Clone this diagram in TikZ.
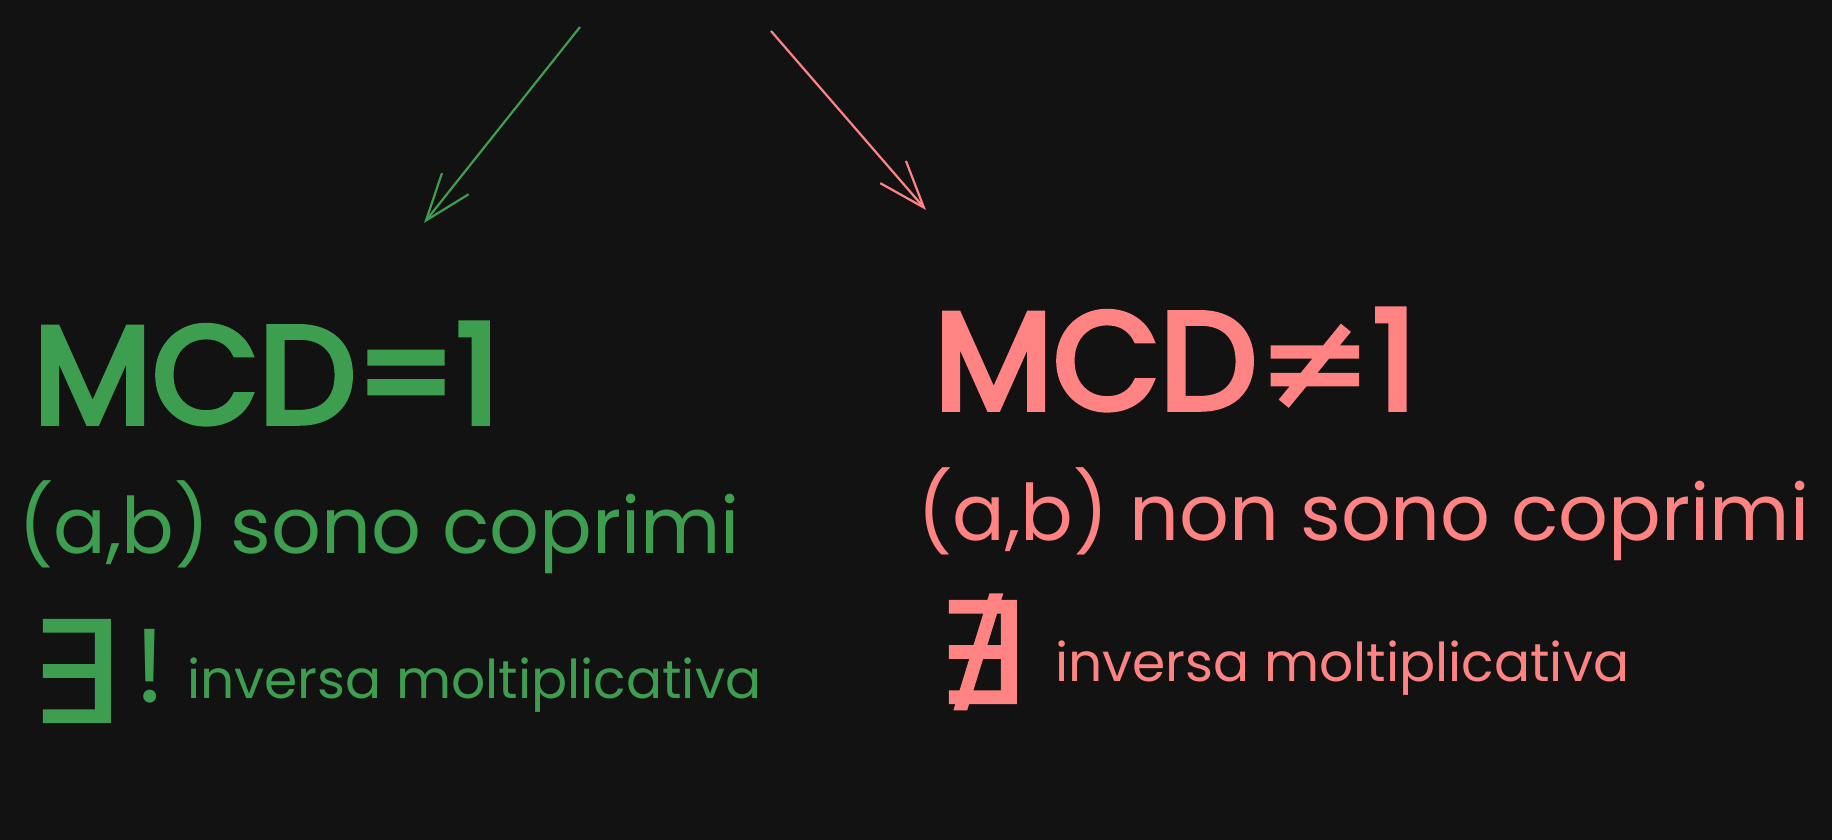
\documentclass[tikz,border=0pt]{standalone}
\usepackage{fontspec}
\setmainfont{Poppins}
\newfontfamily\bigfont[FakeBold=4]{Poppins}
\newfontfamily\symfont{DejaVu Sans}
\newfontfamily\bigsym[FakeBold=1.5]{DejaVu Sans}
\usetikzlibrary{arrows.meta}
\definecolor{bg}{HTML}{121212}
\definecolor{gr}{HTML}{3E9E4F}
\definecolor{rd}{HTML}{FF8383}
\begin{document}
\begin{tikzpicture}[x=1pt,y=-1pt,
  txt/.style={inner sep=0pt, anchor=base west},
  big/.style={font=\bigfont\fontsize{138}{138}\selectfont},
  mid/.style={font=\fontsize{78}{78}\selectfont},
  small/.style={font=\fontsize{53.5}{53.5}\selectfont},
  quant/.style={font=\bigsym\fontsize{140}{140}\selectfont},
  arr/.style={line width=2.2pt, -{Straight Barb[length=47pt,width=34pt]}}]
\fill[bg] (0,0) rectangle (1832,840);
\useasboundingbox (0,0) rectangle (1832,840);
% arrows
\coordinate (gs) at (580,27);
\coordinate (gt) at (424,223);
\coordinate (rs) at (771,31);
\coordinate (rt) at (926,210);
\draw[gr, arr] (gs) -- (gt);
\draw[rd, arr] (rs) -- (rt);
% left column
\node[txt, big, gr] (mcdeq) at (33,423) {MCD=1};
\node[txt, mid, gr] (cop) at (18,553) {(a,b) sono coprimi};
\node[txt, quant, gr] (ex) at (30,722) {∃};
\node[txt, gr, font=\fontsize{105}{105}\selectfont] (bang) at (134,702) {!};
\node[txt, small, gr] (inv1) at (187,698) {inversa moltiplicativa};
% right column
\node[txt, big, rd] (mcdne) at (934,409) {MCD{\bigsym ≠}1};
\node[txt, mid, rd] (ncop) at (917,540) {(a,b) non sono coprimi};
\node[txt, quant, rd] (nex) at (936,703) {∄};
\node[txt, small, rd] (inv2) at (1055,681) {inversa moltiplicativa};
\end{tikzpicture}
\end{document}
